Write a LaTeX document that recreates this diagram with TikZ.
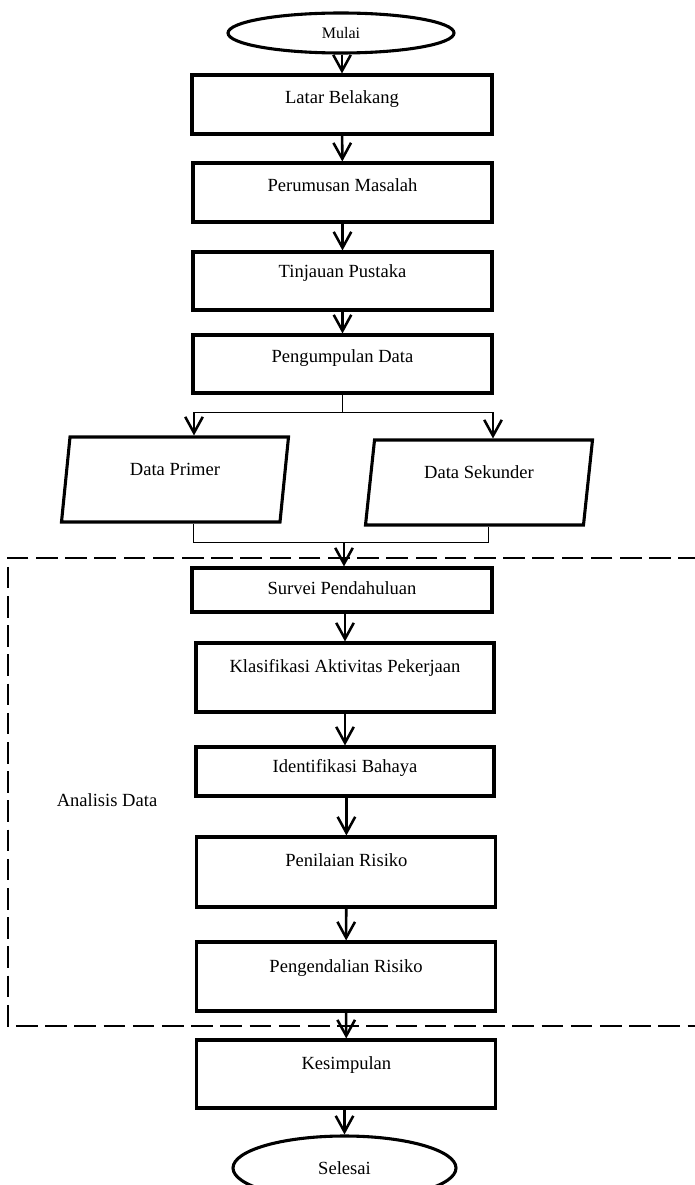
\documentclass[tikz,border=0pt]{standalone}
\usepackage{fontspec}
\setmainfont{Liberation Serif}
\usetikzlibrary{shapes.geometric, arrows.meta}
\tikzset{>={Straight Barb[length=4mm, width=4.4mm]}}
\tikzset{
    proses/.style={draw, rectangle, line width=2.2pt, inner sep=0pt, text height=9.2pt, font=\fontsize{13.2}{15.8}\selectfont},
    terminal/.style={draw, ellipse, line width=2.2pt, inner sep=0pt},
    data/.style={draw, trapezium, trapezium left angle=75.5, trapezium right angle=104.5, trapezium stretches body, line width=2.2pt, inner sep=0pt, text height=9.2pt, minimum width=5.675cm, minimum height=2.125cm, font=\fontsize{13.2}{15.8}\selectfont},
    panah/.style={->, line width=1.8pt},
    garis/.style={line width=0.7pt},
}

\begin{document}
\begin{tikzpicture}
    \useasboundingbox (0, 0) rectangle (17.35, -29.625);
    % alur utama
    \node [terminal, minimum width=5.65cm, minimum height=1cm, font=\fontsize{11.4}{13.7}\selectfont] (mulai) at (8.525, -0.825) {Mulai};
    \node [proses, minimum width=7.5cm, minimum height=1.475cm, text depth=10pt] (latar) at (8.55, -2.6125) {Latar Belakang};
    \node [proses, minimum width=7.475cm, minimum height=1.475cm, text depth=10pt] (rumusan) at (8.5625, -4.8125) {Perumusan Masalah};
    \node [proses, minimum width=7.475cm, minimum height=1.45cm, text depth=13.5pt] (tinjauan) at (8.5625, -7.025) {Tinjauan Pustaka};
    \node [proses, minimum width=7.475cm, minimum height=1.45cm, text depth=10.7pt] (kumpul) at (8.5625, -9.1) {Pengumpulan Data};
    \node [data, text depth=14.2pt] (primer) at (4.375, -11.9875) {Data Primer};
    \node [data, text depth=15.6pt] (sekunder) at (11.975, -12.0625) {Data Sekunder};
    \coordinate (kiri) at (4.85, -10.3);
    \coordinate (kanan) at (12.325, -10.3);
    \coordinate (bkiri) at (4.825, -13.55);
    \coordinate (bkanan) at (12.2, -13.55);
    \coordinate (gabung) at (8.6, -13.55);

    % analisis data
    \draw [line width=2.1pt, dash pattern=on 0.54cm off 0.19cm] (17.5, -13.95) -- (0.2, -13.95) -- (0.2, -25.65) -- (17.5, -25.65);
    \node [font=\fontsize{13.2}{15.8}\selectfont, anchor=base] (analisis) at (2.675, -20.15) {Analisis Data};
    \node [proses, minimum width=7.5cm, minimum height=1.1cm, text depth=2.9pt] (survei) at (8.55, -14.75) {Survei Pendahuluan};
    \node [proses, minimum width=7.45cm, minimum height=1.725cm, text depth=17pt] (klasifikasi) at (8.625, -16.9375) {Klasifikasi Aktivitas Pekerjaan};
    \node [proses, minimum width=7.45cm, minimum height=1.225cm, text depth=7.1pt] (identifikasi) at (8.625, -19.2875) {Identifikasi Bahaya};
    \node [proses, minimum width=7.475cm, minimum height=1.75cm, text depth=16.4pt] (penilaian) at (8.66, -21.8) {Penilaian Risiko};
    \node [proses, minimum width=7.475cm, minimum height=1.725cm, text depth=15.6pt] (pengendalian) at (8.65, -24.4125) {Pengendalian Risiko};

    \node [proses, minimum width=7.475cm, minimum height=1.7cm, text depth=15pt] (kesimpulan) at (8.66, -26.85) {Kesimpulan};
    \node [terminal, minimum width=5.575cm, minimum height=1.6cm, font=\fontsize{13.2}{15.8}\selectfont] (selesai) at (8.6125, -29.2) {Selesai};

    % panah
    \draw [panah] (mulai.south -| latar.north) -- (latar.north);
    \draw [panah] (latar) -- (rumusan);
    \draw [panah] (rumusan) -- (tinjauan);
    \draw [panah] (tinjauan) -- (kumpul);
    \draw [garis] (kumpul.south) -- (kumpul.south |- kiri);
    \draw [garis] (kiri) -- (kanan);
    \draw [panah] (kiri) -- (kiri |- primer.north);
    \draw [panah] (kanan) -- (kanan |- sekunder.north);
    \draw [garis] (bkiri |- primer.south) -- (bkiri) -- (bkanan) -- (bkanan |- sekunder.south);
    \draw [panah] (gabung) -- (gabung |- survei.north);
    \draw [panah] (survei.south -| klasifikasi.north) -- (klasifikasi.north);
    \draw [panah] (klasifikasi) -- (identifikasi);
    \draw [panah] (identifikasi.south -| penilaian.north) -- (penilaian.north);
    \draw [panah] (penilaian) -- (pengendalian);
    \draw [panah] (pengendalian) -- (kesimpulan);
    \draw [panah] (kesimpulan.south -| selesai.north) -- (selesai.north);
\end{tikzpicture}
\end{document}
